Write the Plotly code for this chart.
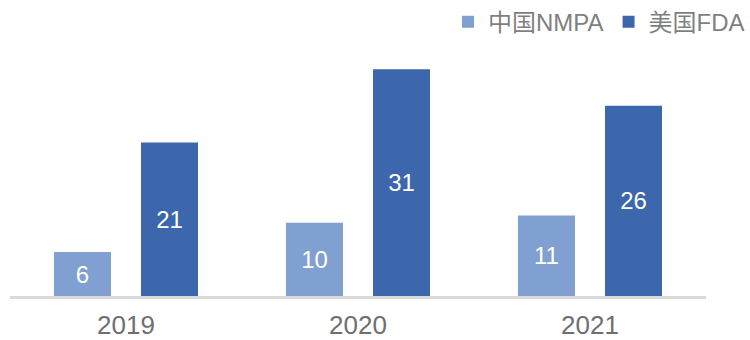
import plotly.graph_objects as go

years = ["2019", "2020", "2021"]
nmpa = [6, 10, 11]
fda = [21, 31, 26]
names = ["中国NMPA", "美国FDA"]
colors = ["#7FA0D1", "#3D67AC"]

FONT = "Liberation Sans, Arial, Noto Sans CJK SC, sans-serif"

fig = go.Figure()
for name, vals, c in zip(names, [nmpa, fda], colors):
    fig.add_trace(go.Bar(
        x=years, y=vals, name=name,
        marker=dict(color=c, line=dict(width=0)),
        text=[str(v) for v in vals], textposition="inside",
        insidetextanchor="middle",
        textfont=dict(color="white", size=24, family=FONT),
    ))

fig.update_layout(
    width=750, height=340,
    margin=dict(l=10, r=44, t=40, b=44, autoexpand=False),
    paper_bgcolor="white", plot_bgcolor="white",
    barmode="group", bargap=0.25, bargroupgap=0.345,
    font=dict(family=FONT, color="#6F6F6F"),
    showlegend=True,
    legend=dict(orientation="h", xref="container", yref="container",
                xanchor="right", x=1.0, yanchor="middle", y=0.935,
                font=dict(size=24, color="#7F7F7F", family=FONT),
                itemwidth=30, traceorder="normal", bgcolor="rgba(0,0,0,0)"),
    uniformtext=dict(mode=False),
)
fig.update_xaxes(showline=True, linecolor="#D9D9D9", linewidth=3, ticks="",
                 tickfont=dict(size=26, color="#6F6F6F", family=FONT),
                 ticklabelstandoff=4,
                 showgrid=False, zeroline=False)
fig.update_yaxes(range=[0, 35], visible=False, showgrid=False, zeroline=False)

fig.write_html("out.html")
